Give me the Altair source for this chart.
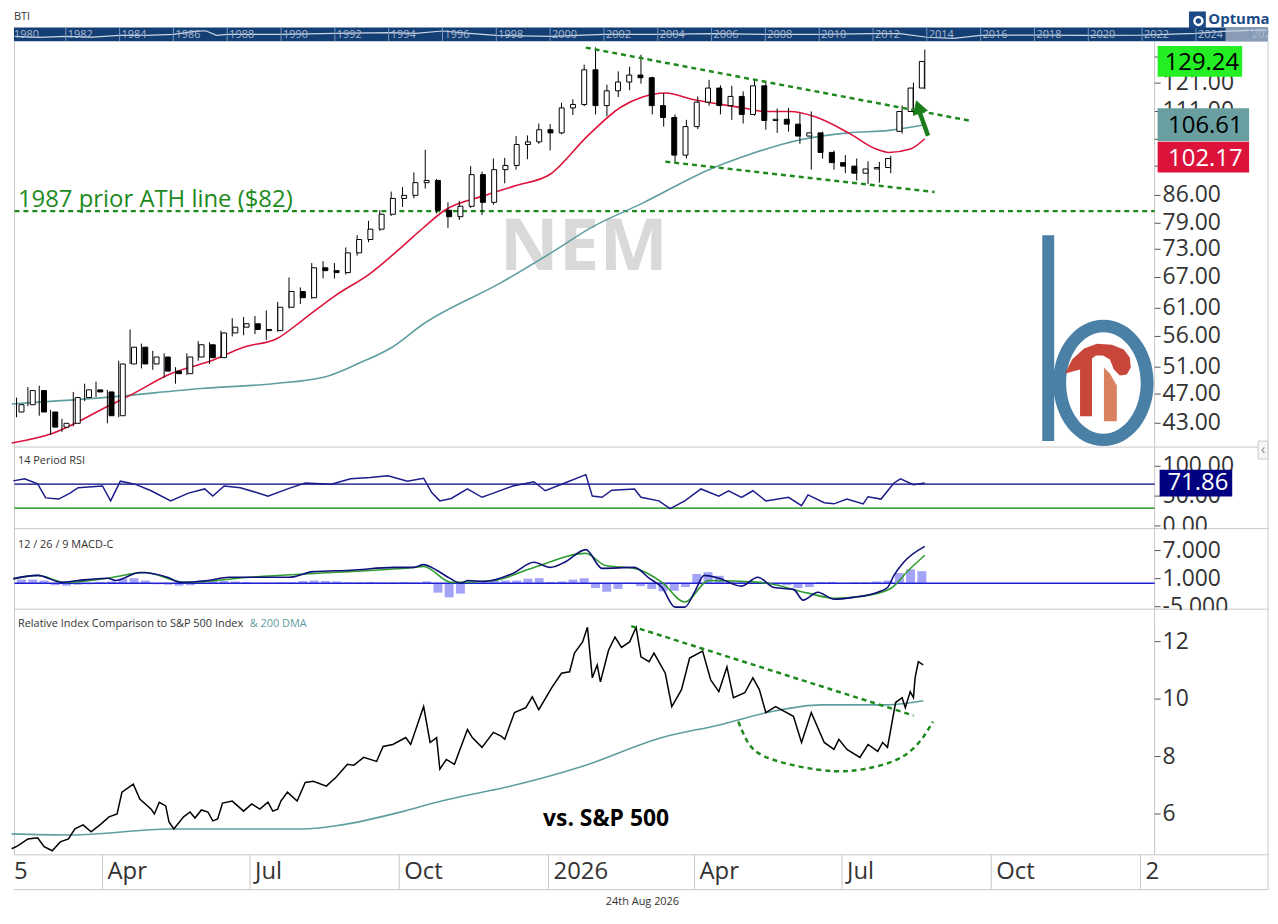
import altair as alt
import pandas as pd

# ======================= DATA =======================
week_dates = [
    "2025-02-07","2025-02-14","2025-02-21","2025-02-28","2025-03-07","2025-03-14","2025-03-21","2025-03-28",
    "2025-04-04","2025-04-11","2025-04-18","2025-04-25","2025-05-02","2025-05-09","2025-05-16","2025-05-23","2025-05-30",
    "2025-06-06","2025-06-13","2025-06-20","2025-06-27","2025-07-04","2025-07-11","2025-07-18","2025-07-25",
    "2025-08-01","2025-08-08","2025-08-15","2025-08-22","2025-08-29","2025-09-05","2025-09-12","2025-09-19","2025-09-26",
    "2025-10-03","2025-10-10","2025-10-17","2025-10-24","2025-10-31","2025-11-07","2025-11-14","2025-11-21","2025-11-28",
    "2025-12-05","2025-12-12","2025-12-19","2025-12-26",
    "2026-01-02","2026-01-09","2026-01-16","2026-01-23","2026-01-30","2026-02-06","2026-02-13","2026-02-20","2026-02-27",
    "2026-03-06","2026-03-13","2026-03-20","2026-03-27","2026-04-03","2026-04-10","2026-04-17","2026-04-24",
    "2026-05-01","2026-05-08","2026-05-15","2026-05-22","2026-05-29","2026-06-05","2026-06-12","2026-06-19","2026-06-26",
    "2026-07-03","2026-07-10","2026-07-17","2026-07-24","2026-07-31","2026-08-07","2026-08-14","2026-08-21"]
opens = [44.5, 45.5, 47.5, 44.5, 42.5, 43.0, 46.5, 47.6, 47.3, 44.0,
         51.5, 54.2, 51.5, 52.6, 50.4, 50.0, 52.6, 54.6, 52.5, 56.6,
         57.6, 58.2, 57.2, 57.0, 61.2, 64.2, 63.0, 69.0, 68.4, 68.0,
         72.2, 75.2, 77.6, 81.2, 85.2, 86.0, 89.4, 90.0, 82.2, 80.6,
         83.2, 91.6, 84.2, 93.0, 94.2, 100.4, 101.2, 105.0, 104.0, 112.2,
         113.4, 126.0, 113.0, 118.2, 121.4, 124.0, 123.0, 113.0, 109.0, 97.2,
         106.0, 114.2, 119.2, 113.0, 116.2, 110.0, 120.0, 108.0, 108.4, 106.8,
         103.0, 104.0, 98.0, 95.0, 94.0, 92.0, 93.2, 93.6, 104.5, 111.0,
         119.2]
highs = [46.5, 48.0, 48.2, 44.8, 43.6, 47.3, 48.5, 48.8, 47.6, 52.0,
         57.2, 54.8, 53.6, 53.2, 51.0, 53.2, 55.2, 55.0, 57.0, 59.2,
         59.4, 59.6, 60.6, 62.2, 67.0, 65.0, 70.0, 70.4, 70.0, 73.4,
         76.2, 79.6, 82.2, 87.0, 88.2, 92.2, 98.8, 90.4, 84.2, 84.6,
         94.0, 92.4, 96.2, 96.4, 103.0, 103.2, 107.0, 106.8, 114.0, 115.2,
         128.0, 134.9, 120.4, 125.4, 127.2, 131.9, 123.4, 117.4, 110.0, 108.2,
         116.2, 122.2, 120.2, 120.0, 118.0, 122.4, 121.0, 112.0, 112.2, 110.4,
         111.0, 104.4, 98.6, 97.2, 96.2, 95.4, 95.2, 97.0, 113.0, 121.2,
         134.0]
lows = [43.8, 45.3, 44.0, 41.5, 41.9, 42.6, 46.0, 46.6, 43.0, 43.8,
        51.5, 50.8, 50.6, 49.4, 48.5, 49.8, 52.0, 51.5, 52.4, 56.0,
        56.2, 56.4, 55.4, 56.8, 61.0, 61.8, 62.8, 66.8, 66.8, 67.6,
        71.6, 74.6, 77.2, 80.8, 83.0, 85.2, 87.8, 81.4, 77.9, 79.8,
        82.8, 81.0, 83.6, 89.2, 93.0, 96.0, 100.6, 98.6, 103.6, 109.8,
        112.8, 110.0, 109.4, 116.0, 118.4, 120.8, 110.0, 106.0, 95.0, 96.2,
        105.2, 113.0, 110.0, 108.2, 107.0, 109.6, 105.0, 104.0, 104.4, 100.6,
        93.0, 96.2, 93.0, 92.0, 90.0, 89.0, 89.4, 92.0, 103.8, 110.2,
        118.8]
closes = [45.5, 47.5, 44.5, 42.5, 43.0, 46.5, 47.6, 47.3, 44.0, 51.5,
          54.2, 51.5, 52.6, 50.4, 50.0, 52.6, 54.6, 52.5, 56.6, 57.6,
          58.2, 57.2, 57.0, 61.2, 64.2, 63.0, 69.0, 68.4, 68.0, 72.2,
          75.2, 77.6, 81.2, 85.2, 86.0, 89.4, 90.0, 82.2, 80.6, 83.2,
          91.6, 84.2, 93.0, 94.2, 100.4, 101.2, 105.0, 104.0, 112.2, 113.4,
          126.0, 113.0, 118.2, 121.4, 124.0, 123.0, 113.0, 109.0, 97.2, 106.0,
          114.2, 119.2, 113.0, 116.2, 110.0, 120.0, 108.0, 108.4, 106.8, 103.0,
          104.0, 98.0, 95.0, 94.0, 92.0, 93.2, 93.6, 96.2, 111.0, 119.2,
          129.24]
macd_hist = [0.8, 0.8, 0.6, -0.4, -0.5, -0.3, -0.2, 0.3, 0.4, 1.0,
             1.1, 0.6, -0.2, -0.3, -0.5, -0.4, 0.6, 0.5, 0.5, 0.4,
             0.3, 0.1, 0.1, 0.2, 0.2, 0.5, 0.6, 0.5, 0.4, 0.2,
             0.2, 0.3, 0.2, 0.2, 0.3, 0.2, 0.4, -2.0, -3.0, -2.2,
             0.3, 0.2, 0.5, 0.6, 0.6, 1.0, 1.1, 0.3, 0.4, 0.8,
             1.1, -1.0, -1.8, -1.2, 0.1, -0.6, -1.2, -1.7, -1.6, -0.8,
             2.0, 2.4, 1.6, 0.4, 0.3, 0.3, 0.2, -0.3, -0.4, -1.0,
             -0.8, 0.3, 0.3, 0.1, 0.2, 0.2, 0.4, 0.6, 2.2, 3.0,
             2.6]

ma50_dates = ["2025-02-04","2025-03-01","2025-04-07","2025-04-17","2025-05-13","2025-06-07","2025-06-27",
              "2025-07-18","2025-08-03","2025-08-23","2025-09-13","2025-10-04","2025-10-16","2025-10-29",
              "2025-11-23","2025-12-12","2026-01-02","2026-01-25","2026-02-15","2026-02-28","2026-03-14",
              "2026-04-01","2026-05-03","2026-05-14","2026-05-30","2026-06-14","2026-07-05","2026-07-22",
              "2026-07-30","2026-08-12","2026-08-21"]
ma50_vals = [40.5, 41.7, 45.6, 46.7, 50.0, 52.0, 54.2, 55.7, 59.0, 63.5, 67.8, 74.0, 78.0, 82.2,
             86.0, 88.6, 91.7, 103.0, 112.6, 116.0, 117.4, 115.0, 112.0, 111.0, 111.0, 109.3, 104.0, 99.0,
             98.0, 99.0, 102.17]
ma200_dates = ["2025-02-04","2025-04-07","2025-06-01","2025-07-15","2025-08-16","2025-09-06","2025-09-26",
               "2025-10-16","2025-12-03","2026-01-03","2026-01-27","2026-02-28","2026-04-12","2026-05-03",
               "2026-06-04","2026-07-05","2026-07-30","2026-08-21"]
ma200_vals = [45.6, 46.6, 47.8, 48.5, 49.5, 51.6, 54.1, 58.2, 66.0, 72.3, 77.9, 84.0, 93.4, 97.1,
              101.7, 104.0, 104.8, 106.61]

rsi_dates = ["2025-02-05","2025-02-12","2025-02-20","2025-02-25","2025-03-05","2025-03-12","2025-03-17","2025-04-01",
             "2025-04-06","2025-04-12","2025-04-21","2025-05-01","2025-05-13","2025-05-24","2025-06-03","2025-06-08",
             "2025-06-15","2025-06-25","2025-07-05","2025-07-12","2025-07-25","2025-08-04","2025-08-20","2025-09-01",
             "2025-09-13","2025-09-24","2025-10-06","2025-10-16","2025-10-21","2025-10-26","2025-11-02","2025-11-12",
             "2025-11-21","2025-11-28","2025-12-10","2025-12-23","2025-12-30","2026-01-11","2026-01-24","2026-01-28",
             "2026-02-03","2026-02-09","2026-02-23","2026-02-27","2026-03-10","2026-03-17","2026-03-26","2026-04-05",
             "2026-04-16","2026-04-22","2026-04-30","2026-05-07","2026-05-15","2026-05-29","2026-06-06","2026-06-10",
             "2026-06-20","2026-06-26","2026-07-04","2026-07-14","2026-07-17","2026-07-25","2026-08-02","2026-08-06",
             "2026-08-14","2026-08-21"]
rsi_vals = [75.5, 79, 70.5, 47, 45, 55, 64, 67, 42, 75, 70, 59, 42, 55, 62, 50, 67, 64, 56, 50,
            63, 72, 70, 79, 81, 84, 75, 80, 56, 42, 46, 62, 48, 55, 67, 74, 59, 72, 86, 50,
            48, 60, 62, 48, 42, 29, 42, 62, 50, 59, 48, 59, 42, 48, 34, 52, 39, 37, 45, 37,
            49, 45, 72, 79, 69, 71.86]

macd_dates = ["2025-02-05","2025-02-20","2025-03-07","2025-03-17","2025-04-04","2025-04-09","2025-04-24","2025-05-11",
              "2025-05-19","2025-06-05","2025-06-18","2025-07-12","2025-07-25","2025-08-09","2025-09-01","2025-09-28",
              "2025-10-10","2025-10-16","2025-10-24","2025-11-01","2025-11-08","2025-11-12","2025-11-22","2025-12-10",
              "2025-12-23","2026-01-02","2026-01-11","2026-01-24","2026-02-03","2026-02-23","2026-03-04","2026-03-12",
              "2026-03-20","2026-03-26","2026-04-01","2026-04-07","2026-04-16","2026-04-30","2026-05-10","2026-05-20",
              "2026-06-01","2026-06-07","2026-06-16","2026-06-26","2026-07-08","2026-07-23","2026-07-29","2026-08-02",
              "2026-08-08","2026-08-21"]
macd_vals = [1.0, 1.7, 0.2, 0.6, 1.1, 0.6, 2.3, 1.3, 0.2, 0.6, 1.3, 1.3, 1.3, 2.5, 2.8, 3.4, 3.4, 4.0, 2.8, 1.1,
             0.0, 0.6, 0.4, 2.1, 4.5, 3.4, 4.5, 7.2, 3.2, 3.4, 1.1, -0.9, -5.1, -5.1, -1.9, 1.7, 1.1, -0.6, 1.3, -0.9,
             -1.3, -3.6, -1.9, -3.4, -3.0, -1.9, -0.9, 1.7, 4.5, 7.9]
signal_dates = ["2025-02-05","2025-02-20","2025-03-09","2025-04-04","2025-04-27","2025-05-22","2025-07-01","2025-08-20",
                "2025-10-10","2025-10-16","2025-11-02","2025-11-28","2025-12-23","2026-01-24","2026-02-05","2026-02-23",
                "2026-03-12","2026-03-26","2026-04-10","2026-05-12","2026-06-10","2026-06-26","2026-07-13","2026-07-31",
                "2026-08-11","2026-08-21"]
signal_vals = [0.9, 1.7, 0.2, 1.1, 2.3, 0.2, 1.3, 2.3, 3.4, 3.6, 0.2, 0.6, 3.4, 6.4, 3.8, 3.2,
               0.2, -4.0, 0.6, 0.2, -2.1, -3.2, -2.8, -1.1, 2.8, 6.0]

rel_dates = ["2025-02-04","2025-02-08","2025-02-14","2025-02-20","2025-02-24","2025-03-01","2025-03-06","2025-03-11",
             "2025-03-15","2025-03-20","2025-03-25","2025-03-31","2025-04-05","2025-04-10","2025-04-13","2025-04-20",
             "2025-04-24","2025-05-01","2025-05-03","2025-05-06","2025-05-10","2025-05-12","2025-05-15","2025-05-21",
             "2025-05-25","2025-05-28","2025-06-01","2025-06-05","2025-06-08","2025-06-11","2025-06-14","2025-06-20",
             "2025-06-27","2025-07-02","2025-07-07","2025-07-12","2025-07-15","2025-07-18","2025-07-20","2025-07-24",
             "2025-07-30","2025-08-04","2025-08-09","2025-08-17","2025-08-23","2025-08-30","2025-09-03","2025-09-09",
             "2025-09-17","2025-09-21","2025-09-27","2025-10-05","2025-10-08","2025-10-16","2025-10-20","2025-10-24",
             "2025-10-26","2025-10-30","2025-11-04","2025-11-12","2025-11-15","2025-11-21","2025-11-28","2025-12-03",
             "2025-12-05","2025-12-11","2025-12-18","2025-12-22","2025-12-26","2026-01-03","2026-01-09","2026-01-14",
             "2026-01-17","2026-01-22","2026-01-25","2026-01-28","2026-01-31","2026-02-02","2026-02-07","2026-02-11",
             "2026-02-15","2026-02-20","2026-02-24","2026-02-27","2026-03-04","2026-03-07","2026-03-14","2026-03-18",
             "2026-03-24","2026-03-29","2026-04-06","2026-04-11","2026-04-16","2026-04-21","2026-04-25","2026-05-02",
             "2026-05-07","2026-05-11","2026-05-15","2026-05-21","2026-06-01","2026-06-06","2026-06-12","2026-06-20",
             "2026-06-26","2026-06-29","2026-07-04","2026-07-12","2026-07-17","2026-07-23","2026-07-26","2026-07-29",
             "2026-08-03","2026-08-07","2026-08-09","2026-08-12","2026-08-14","2026-08-15","2026-08-17","2026-08-20"]
rel_vals = [4.79, 4.9, 5.13, 5.17, 4.86, 4.72, 5.03, 5.13, 5.48, 5.62,
            5.38, 5.65, 5.9, 6.0, 6.76, 7.04, 6.52, 6.17, 6.0, 6.41,
            6.28, 5.72, 5.48, 5.9, 6.07, 5.86, 6.14, 6.07, 5.76, 5.83,
            6.38, 6.45, 6.1, 6.35, 6.17, 6.41, 6.1, 6.17, 6.45, 6.76,
            6.45, 7.1, 7.14, 6.97, 7.28, 7.73, 7.7, 7.97, 7.83, 8.35,
            8.42, 8.66, 8.42, 9.74, 8.49, 8.66, 7.56, 7.9, 7.73, 8.94,
            8.66, 8.32, 8.84, 8.7, 8.6, 9.53, 9.7, 10.08, 9.63, 10.4,
            10.9, 10.95, 11.6, 11.99, 12.5, 10.74, 11.19, 10.6, 11.7, 12.16,
            11.8, 11.99, 12.5, 11.47, 11.3, 11.6, 10.9, 9.74, 10.33, 11.43,
            11.67, 10.67, 10.26, 11.12, 10.05, 10.22, 10.74, 10.33, 9.53, 9.74,
            9.4, 8.49, 9.53, 8.49, 8.25, 8.6, 8.25, 7.97, 8.42, 8.18,
            8.49, 8.32, 9.88, 10.05, 9.7, 10.26, 10.05, 10.74, 11.3, 11.19]
rel_dma_dates = ["2025-02-04","2025-03-13","2025-05-13","2025-08-03","2025-08-23","2025-10-04","2025-10-24","2025-11-21",
                 "2025-12-03","2026-01-22","2026-03-12","2026-04-17","2026-05-18","2026-06-18","2026-07-29","2026-08-20"]
rel_dma_vals = [5.31, 5.27, 5.48, 5.48, 5.59, 6.1, 6.41, 6.76, 6.9, 7.66, 8.66, 9.11, 9.56, 9.8, 9.8, 9.94]

# annotations (hand-drawn lines on the reference)
ath_level = 82
upper_trend_dates = ["2026-01-24", "2026-09-19"]
upper_trend_vals = [134.8, 107.8]
lower_trend_dates = ["2026-03-14", "2026-08-27"]
lower_trend_vals = [95.3, 86.9]
arrow_dates = ["2026-08-23", "2026-08-18"]
arrow_vals = [103.1, 110.5]
arrow_tip_dates = ["2026-08-17"]
arrow_tip_vals = [112.6]
rel_trend_dates = ["2026-02-21", "2026-08-14"]
rel_trend_vals = [12.54, 9.43]
rel_arc_dates = ["2026-04-28","2026-05-04","2026-05-14","2026-06-04","2026-06-26","2026-07-14","2026-08-04","2026-08-18","2026-08-26"]
rel_arc_vals = [9.22, 8.49, 8.01, 7.66, 7.49, 7.56, 7.9, 8.53, 9.22]

# tick values and labels
price_ticks = [43, 47, 51, 56, 61, 67, 73, 79, 86, 94, 102, 111, 121, 131]
price_labeled = [43, 47, 51, 56, 61, 67, 73, 79, 86, 111, 121]   # the others sit under the value boxes
rsi_ticks = [0, 50, 100]
macd_ticks = [-5, 1, 7]
rel_ticks = [6, 8, 10, 12]
month_ticks = ["2025-04-01","2025-07-01","2025-10-01","2026-01-01","2026-04-01","2026-07-01","2026-10-01","2027-01-01"]
month_labels = ["Apr", "Jul", "Oct", "2026", "Apr", "Jul", "Oct", "2"]
timeline_label_years = [1980, 1982, 1984, 1986, 1988, 1990, 1992, 1994, 1996, 1998, 2000, 2002, 2004,
                        2006, 2008, 2010, 2012, 2014, 2016, 2018, 2020, 2022, 2024, 2026]
timeline_tick_years = timeline_label_years[1:]
history_years = [1980.1, 1981, 1982, 1983, 1984, 1985, 1986, 1986.8, 1987.2, 1987.6, 1988, 1990, 1992, 1994,
                 1995, 1996, 1997, 1998, 2000, 2002, 2004, 2006, 2008, 2010, 2012, 2013, 2014, 2015, 2016,
                 2018, 2020, 2022, 2024, 2025, 2026, 2026.6]
history_vals = [0.36, 0.29, 0.36, 0.3, 0.43, 0.43, 0.5, 0.71, 0.76, 0.43, 0.5, 0.5, 0.57, 0.62,
                0.57, 0.74, 0.57, 0.43, 0.36, 0.5, 0.5, 0.55, 0.5, 0.5, 0.55, 0.55, 0.29, 0.21, 0.43,
                0.45, 0.43, 0.45, 0.57, 0.72, 0.79, 0.8]

# ======================= STYLE / LAYOUT (one view; pixel bands per pane) =======================
FONT = "Open Sans"
W = 1147          # right edge of the time plot (price axis line)
FR = 1261         # outer right frame
TOTAL_W, TOTAL_H = 1262, 900
BAR_T, BAR_B = 16, 30
P_T, P_B = 30, 438
R_T, R_B = 438, 520
M_T, M_B = 520, 601
L_T, L_B = 601, 848
BAND_B = 883
GRID = "#c8c8c8"
LBL = "#333333"
GREEN = "#1e8a1e"
RED = "#dc143c"
TEAL = "#5f9ea0"
NAVY = "#000080"

one = pd.DataFrame({"k": [0]})


def dt(s, hours=0):
    y, m, d = s.split("-")
    return alt.DateTime(year=int(y), month=int(m), date=int(d), hours=hours, utc=True)


XS = alt.Scale(type="utc", domain=[dt("2025-02-05", 10), dt("2027-01-09", 17)], range=[0, W])
PS = alt.Scale(type="log", domain=[40.0, 137.4], range=[P_B, P_T], nice=False, zero=False)
RS = alt.Scale(domain=[-4.5, 132.2], range=[R_B, R_T], nice=False, zero=False)
MS = alt.Scale(domain=[-5.53, 11.7], range=[M_B, M_T], nice=False, zero=False)
LS = alt.Scale(domain=[4.58, 13.13], range=[L_B, L_T], nice=False, zero=False)
YRS = alt.Scale(domain=[1980.074, 2026.68], range=[0, FR], nice=False, zero=False)
BYS = alt.Scale(domain=[0, 1], range=[BAR_B, BAR_T], nice=False, zero=False)


def X(field="date"):
    return alt.X(f"{field}:T", scale=XS, axis=None, title=None)


def XY(field):
    return alt.X(f"{field}:Q", scale=YRS, axis=None, title=None)


def Y(field, scale):
    return alt.Y(f"{field}:Q", scale=scale, axis=None, title=None)


def hrule(y, x0, x1, color=GRID):
    return alt.Chart(one).mark_rule(color=color).encode(x=alt.value(x0), x2=alt.value(x1), y=alt.value(y))


def vrule(x, y0, y1, color=GRID):
    return alt.Chart(one).mark_rule(color=color).encode(x=alt.value(x), y=alt.value(y0), y2=alt.value(y1))


def level_rule(v, scale, color, width=1.3, dash=None):
    kw = dict(color=color, strokeWidth=width)
    if dash:
        kw["strokeDash"] = dash
    return alt.Chart(pd.DataFrame({"v": [v]})).mark_rule(**kw).encode(
        x=alt.value(0.5), x2=alt.value(W), y=Y("v", scale))


def ytick_layers(vals, fmt, scale, labeled=None):
    labeled = vals if labeled is None else labeled
    tdf = pd.DataFrame({"v": vals})
    ldf = pd.DataFrame({"v": labeled, "t": [format(v, fmt) for v in labeled]})
    ticks = alt.Chart(tdf).mark_rule(color="#555555").encode(x=alt.value(W), x2=alt.value(W + 6), y=Y("v", scale))
    txt = alt.Chart(ldf).mark_text(font=FONT, fontSize=23, color=LBL, align="left", baseline="middle").encode(
        x=alt.value(W + 8), y=Y("v", scale), text="t:N")
    return [ticks, txt]


def rect_shape(w, h):
    r = h / w
    return f"M-1,{-r:.4f} L1,{-r:.4f} L1,{r:.4f} L-1,{r:.4f} Z"


def value_box(df, y_enc, xc, w, h, fill, txt_color, dy):
    b = alt.Chart(df).mark_point(shape=rect_shape(w, h), size=w * w, filled=True, color=fill,
                                 opacity=1, strokeWidth=0).encode(x=alt.value(xc), y=y_enc)
    t = alt.Chart(df).mark_text(font=FONT, fontSize=24, color=txt_color, align="center",
                                baseline="alphabetic", dy=dy).encode(x=alt.value(xc + 2), y=y_enc, text="t:N")
    return [b, t]


def cover(y0):
    return alt.Chart(one).mark_rect(color="white").encode(
        x=alt.value(W + 1), x2=alt.value(FR - 1), y=alt.value(y0 + 1), y2=alt.value(y0 + 11))


def label(txt, x, y, size=11, color=LBL, weight="normal", align="left", baseline="alphabetic"):
    return alt.Chart(one).mark_text(text=txt, font=FONT, fontSize=size, color=color, fontWeight=weight,
                                    align=align, baseline=baseline).encode(x=alt.value(x), y=alt.value(y))


# ---------- logo shapes (decoration, page coords -> unit box) ----------
LCX, LCY, LH = 1098, 339, 106


def _u(px, py):
    return f"{(px - LCX) / LH:.4f},{(py - LCY) / LH:.4f}"


def poly_path(pts):
    return "M" + " L".join(_u(x, y) for x, y in pts) + " Z"


def ellipse_path(cx, cy, rx, ry, ccw=False):
    k = 0.5523
    if not ccw:
        segs = [((cx + rx, cy + k * ry), (cx + k * rx, cy + ry), (cx, cy + ry)),
                ((cx - k * rx, cy + ry), (cx - rx, cy + k * ry), (cx - rx, cy)),
                ((cx - rx, cy - k * ry), (cx - k * rx, cy - ry), (cx, cy - ry)),
                ((cx + k * rx, cy - ry), (cx + rx, cy - k * ry), (cx + rx, cy))]
    else:
        segs = [((cx + rx, cy - k * ry), (cx + k * rx, cy - ry), (cx, cy - ry)),
                ((cx - k * rx, cy - ry), (cx - rx, cy - k * ry), (cx - rx, cy)),
                ((cx - rx, cy + k * ry), (cx - k * rx, cy + ry), (cx, cy + ry)),
                ((cx + k * rx, cy + ry), (cx + rx, cy + k * ry), (cx + rx, cy))]
    s = "M" + _u(cx + rx, cy)
    for a, b, c in segs:
        s += " C" + _u(*a) + " " + _u(*b) + " " + _u(*c)
    return s + " Z"


stem_path = poly_path([(1042, 233), (1054, 233), (1054, 440), (1042, 440)])
ring_path = ellipse_path(1103.5, 381.5, 50.5, 63.5) + " " + ellipse_path(1103.5, 381.5, 37.5, 51, ccw=True)
red_path = poly_path([(1080, 415), (1080, 368), (1065, 372), (1072, 358), (1084, 347), (1097, 342), (1112, 343),
                      (1124, 348), (1130, 356), (1131, 366), (1127, 373), (1120, 374), (1114, 368), (1110, 358),
                      (1103, 354), (1096, 354), (1092, 357), (1092, 415)])
salmon_path = poly_path([(1104, 366), (1110, 372), (1117, 384), (1117, 420), (1104, 420)])


def logo_piece(path, color):
    return alt.Chart(one).mark_point(shape=path, size=(2 * LH) ** 2, filled=True, color=color, opacity=1,
                                     strokeWidth=0).encode(x=alt.value(LCX - 8), y=alt.value(LCY - 8))


layers = []

# ======================= TOP TIMELINE BAR =======================
layers += [
    alt.Chart(pd.DataFrame({"a": [1980.074], "b": [2026.68]})).mark_rect(color="#143f74").encode(
        x=XY("a"), x2="b:Q", y=alt.value(BAR_T), y2=alt.value(BAR_B)),
    alt.Chart(pd.DataFrame({"a": [2025.1], "b": [2026.68]})).mark_rect(color="#8a9bb5").encode(
        x=XY("a"), x2="b:Q", y=alt.value(BAR_T), y2=alt.value(BAR_B)),
    alt.Chart(pd.DataFrame({"yr": history_years, "v": history_vals})).mark_line(
        color="#ccd6e4", strokeWidth=1.2).encode(x=XY("yr"), y=Y("v", BYS)),
    alt.Chart(pd.DataFrame({"yr": timeline_tick_years})).mark_rule(color="#7c98bd", strokeWidth=1).encode(
        x=XY("yr"), y=alt.value(BAR_T), y2=alt.value(BAR_B)),
    alt.Chart(pd.DataFrame({"yr": timeline_label_years, "lab": [str(y) for y in timeline_label_years]})
              ).mark_text(font=FONT, fontSize=11, color="#a9bad2", align="left", baseline="middle", dx=2,
                          clip=True).encode(x=XY("yr"), y=alt.value((BAR_T + BAR_B) / 2 + 0.5), text="lab:N"),
    label("BTI", 0, 5.5, baseline="middle"),
    alt.Chart(one).mark_point(shape="square", size=289, filled=True, color="#1c4a86", opacity=1).encode(
        x=alt.value(1190), y=alt.value(8.5)),
    alt.Chart(one).mark_point(shape="circle", size=64, filled=False, color="white", strokeWidth=2.5,
                              opacity=1).encode(x=alt.value(1191), y=alt.value(9.5)),
    label("Optuma", 1201, 13, size=15, color="#1c4a86", weight="bold"),
]

# ======================= FRAME =======================
layers += [vrule(0.5, P_T, L_B), vrule(W, P_T, L_B), vrule(FR, P_T, BAND_B),
           hrule(R_T, 0, FR), hrule(M_T, 0, FR), hrule(L_T, 0, FR), hrule(L_B, 0, FR), hrule(BAND_B, 0, FR)]

# ======================= PRICE PANE =======================
cdf = pd.DataFrame({"date": week_dates, "open": opens, "high": highs, "low": lows, "close": closes})
layers += [
    level_rule(ath_level, PS, GREEN, 2.2, [5, 4]),
    label("NEM", 573, 260, size=73, color="#d9d9d9", weight="bold", align="center"),
    logo_piece(stem_path, "#4a7fa6"), logo_piece(ring_path, "#4a7fa6"),
    logo_piece(red_path, "#c8473a"), logo_piece(salmon_path, "#d9825f"),
    alt.Chart(pd.DataFrame({"date": ma200_dates, "v": ma200_vals})).mark_line(
        color=TEAL, strokeWidth=1.6, interpolate="monotone").encode(x=X(), y=Y("v", PS)),
    alt.Chart(pd.DataFrame({"date": ma50_dates, "v": ma50_vals})).mark_line(
        color=RED, strokeWidth=1.6, interpolate="monotone").encode(x=X(), y=Y("v", PS)),
    alt.Chart(cdf).mark_rule(color="black", strokeWidth=1).encode(x=X(), y=Y("low", PS), y2="high:Q"),
    alt.Chart(cdf).mark_bar(size=5, stroke="black", strokeWidth=1).encode(
        x=X(), y=Y("open", PS), y2="close:Q",
        color=alt.condition("datum.close >= datum.open", alt.value("white"), alt.value("black"))),
    alt.Chart(pd.DataFrame({"date": upper_trend_dates, "v": upper_trend_vals})).mark_line(
        color=GREEN, strokeDash=[5, 4], strokeWidth=2.5).encode(x=X(), y=Y("v", PS)),
    alt.Chart(pd.DataFrame({"date": lower_trend_dates, "v": lower_trend_vals})).mark_line(
        color=GREEN, strokeDash=[5, 4], strokeWidth=2.5).encode(x=X(), y=Y("v", PS)),
    alt.Chart(pd.DataFrame({"date": arrow_dates, "v": arrow_vals})).mark_line(
        color="#1a7d1a", strokeWidth=4.5).encode(x=X(), y=Y("v", PS)),
    alt.Chart(pd.DataFrame({"date": arrow_tip_dates, "v": arrow_tip_vals})).mark_point(
        shape="triangle-up", size=260, filled=True, color="#1a7d1a", opacity=1, angle=341.6).encode(
        x=X(), y=Y("v", PS)),
    label("1987 prior ATH line ($82)", 4, 197, size=24, color=GREEN),
]
layers += ytick_layers(price_ticks, ".2f", PS, price_labeled)
layers += value_box(pd.DataFrame({"v": [closes[-1]], "t": [f"{closes[-1]:.2f}"]}), Y("v", PS),
                    1192.5, 85, 31, "#24ee24", "black", 8.5)
layers += value_box(pd.DataFrame({"v": [ma200_vals[-1]], "t": [f"{ma200_vals[-1]:.2f}"]}), Y("v", PS),
                    1196, 92, 33, "#6a9fa1", "black", 8.5)
layers += value_box(pd.DataFrame({"t": [f"{ma50_vals[-1]:.2f}"]}), alt.value(146.5),
                    1196, 92, 31, RED, "white", 8.5)

# ======================= RSI PANE =======================
layers += [
    level_rule(70, RS, NAVY),
    level_rule(30, RS, "#008000"),
    alt.Chart(pd.DataFrame({"date": rsi_dates, "v": rsi_vals})).mark_line(
        color="#1c1c8a", strokeWidth=1.5).encode(x=X(), y=Y("v", RS)),
    label("14 Period RSI", 4, R_T + 17),
]
layers += ytick_layers(rsi_ticks, ".2f", RS)
layers += value_box(pd.DataFrame({"v": [rsi_vals[-1]], "t": [f"{rsi_vals[-1]:.2f}"]}), Y("v", RS),
                    1188.5, 73, 27, NAVY, "white", 6.5)
layers += [  # small collapse button at the pane edge
    alt.Chart(one).mark_rect(fill="#f6f6f6", stroke=GRID).encode(
        x=alt.value(FR - 10), x2=alt.value(FR), y=alt.value(R_T - 6), y2=alt.value(R_T + 12)),
    label("‹", FR - 5, R_T + 3, size=14, color="#888888", align="center", baseline="middle"),
]

# ======================= MACD PANE =======================
layers += [
    cover(M_T),
    level_rule(0, MS, "#1f1fcf", 1.4),
    alt.Chart(pd.DataFrame({"date": week_dates, "h": macd_hist, "z": [0] * len(macd_hist)})).mark_bar(
        size=9, color="#3434ee", opacity=0.45).encode(x=X(), y=Y("z", MS), y2="h:Q"),
    alt.Chart(pd.DataFrame({"date": signal_dates, "v": signal_vals})).mark_line(
        color="#2f9c2f", strokeWidth=1.6, interpolate="monotone").encode(x=X(), y=Y("v", MS)),
    alt.Chart(pd.DataFrame({"date": macd_dates, "v": macd_vals})).mark_line(
        color="#10107a", strokeWidth=1.6, interpolate="monotone").encode(x=X(), y=Y("v", MS)),
    label("12 / 26 / 9 MACD-C", 4, M_T + 19),
]
layers += ytick_layers(macd_ticks, ".3f", MS)

# ======================= RELATIVE PANE =======================
layers += [
    cover(L_T),
    alt.Chart(pd.DataFrame({"date": rel_dma_dates, "v": rel_dma_vals})).mark_line(
        color=TEAL, strokeWidth=1.6, interpolate="monotone").encode(x=X(), y=Y("v", LS)),
    alt.Chart(pd.DataFrame({"date": rel_dates, "v": rel_vals})).mark_line(
        color="black", strokeWidth=1.5).encode(x=X(), y=Y("v", LS)),
    alt.Chart(pd.DataFrame({"date": rel_trend_dates, "v": rel_trend_vals})).mark_line(
        color=GREEN, strokeDash=[5, 4], strokeWidth=2.5).encode(x=X(), y=Y("v", LS)),
    alt.Chart(pd.DataFrame({"date": rel_arc_dates, "v": rel_arc_vals})).mark_line(
        color=GREEN, strokeDash=[5, 4], strokeWidth=2.5, interpolate="natural").encode(x=X(), y=Y("v", LS)),
    label("vs. S&P 500", 532, 819, size=23, color="black", weight="bold"),
    label("Relative Index Comparison to S&P 500 Index", 4, L_T + 18),
    label("& 200 DMA", 237, L_T + 18, color=TEAL),
]
layers += ytick_layers(rel_ticks, "d", LS)

# ======================= DATE BAND =======================
mdf = pd.DataFrame({"date": month_ticks, "t": month_labels})
layers += [
    alt.Chart(mdf).mark_rule(color=GRID).encode(x=X(), y=alt.value(L_B), y2=alt.value(BAND_B)),
    alt.Chart(mdf).mark_text(font=FONT, fontSize=24, color=LBL, align="left", baseline="middle", dx=5).encode(
        x=X(), y=alt.value((L_B + BAND_B) / 2), text="t:N"),
    label("5", 0, (L_B + BAND_B) / 2, size=24, baseline="middle"),
    label("24th Aug 2026", 632, 895.5, align="center", baseline="middle"),
]

chart = alt.layer(*layers).resolve_scale(x="independent", y="independent").properties(
    width=TOTAL_W, height=TOTAL_H, padding=0).configure_view(strokeWidth=0)

chart.save("out.html", embed_options={"renderer": "svg", "actions": False})
